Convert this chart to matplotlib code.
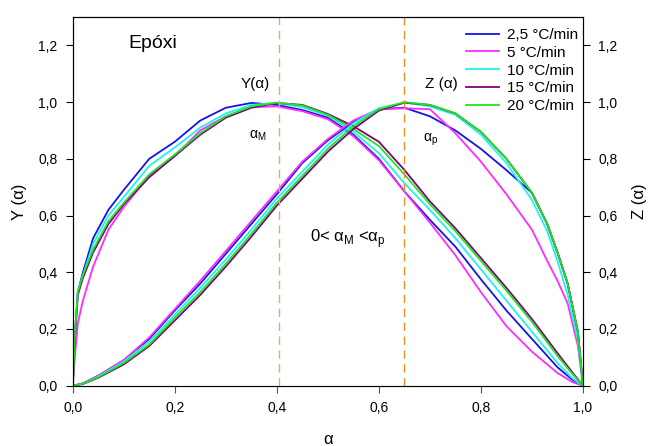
import numpy as np
import matplotlib
matplotlib.use("Agg")
import matplotlib.pyplot as plt
from matplotlib.ticker import FuncFormatter

plt.rcParams['font.family'] = ['Liberation Sans', 'DejaVu Sans']

labels = ['2,5 °C/min', '5 °C/min', '10 °C/min', '15 °C/min', '20 °C/min']
colors = ['#1414e6', '#ff2bff', '#1ff2f2', '#800080', '#1ee61e']

# Y(alpha) curves
alpha_y = [0, 0.005, 0.01, 0.02, 0.04, 0.07, 0.1, 0.15, 0.2, 0.25, 0.3, 0.35, 0.4,
           0.45, 0.5, 0.55, 0.6, 0.65, 0.7, 0.75, 0.8, 0.85, 0.9, 0.95, 0.98, 1.0]
y_blue = [0, 0.20, 0.33, 0.40, 0.52, 0.62, 0.69, 0.80, 0.86, 0.935, 0.98, 0.997, 0.99,
          0.972, 0.945, 0.885, 0.80, 0.685, 0.585, 0.49, 0.375, 0.265, 0.165, 0.065, 0.02, 0]
y_mag = [0, 0.12, 0.22, 0.30, 0.42, 0.55, 0.63, 0.74, 0.81, 0.90, 0.95, 0.982, 0.985,
         0.968, 0.94, 0.88, 0.795, 0.685, 0.575, 0.46, 0.33, 0.21, 0.12, 0.045, 0.012, 0]
y_cyan = [0, 0.19, 0.33, 0.39, 0.50, 0.60, 0.665, 0.775, 0.84, 0.91, 0.96, 0.99, 0.997,
          0.982, 0.952, 0.895, 0.82, 0.714, 0.62, 0.52, 0.41, 0.30, 0.19, 0.08, 0.025, 0]
y_purp = [0, 0.18, 0.32, 0.38, 0.47, 0.57, 0.64, 0.735, 0.81, 0.885, 0.945, 0.98, 0.997,
          0.99, 0.958, 0.915, 0.86, 0.761, 0.65, 0.555, 0.45, 0.345, 0.235, 0.115, 0.045, 0]
y_green = [0, 0.20, 0.33, 0.39, 0.48, 0.58, 0.645, 0.745, 0.815, 0.89, 0.95, 0.985, 0.998,
           0.988, 0.955, 0.905, 0.845, 0.745, 0.64, 0.545, 0.44, 0.335, 0.225, 0.105, 0.04, 0]

# Z(alpha) curves
alpha_z = [0, 0.02, 0.05, 0.1, 0.15, 0.2, 0.25, 0.3, 0.35, 0.4, 0.45, 0.5, 0.55, 0.6,
           0.65, 0.7, 0.75, 0.8, 0.85, 0.9, 0.93, 0.95, 0.97, 0.99, 1.0]
z_blue = [0, 0.008, 0.035, 0.09, 0.165, 0.265, 0.36, 0.465, 0.57, 0.675, 0.785, 0.865, 0.93,
          0.975, 0.98, 0.95, 0.9, 0.835, 0.76, 0.68, 0.57, 0.47, 0.36, 0.19, 0.0]
z_mag = [0, 0.008, 0.035, 0.09, 0.17, 0.27, 0.37, 0.475, 0.58, 0.685, 0.79, 0.87, 0.935,
         0.975, 0.978, 0.975, 0.89, 0.79, 0.675, 0.55, 0.44, 0.37, 0.29, 0.14, 0.0]
z_cyan = [0, 0.007, 0.032, 0.085, 0.155, 0.25, 0.345, 0.445, 0.55, 0.66, 0.755, 0.85, 0.925,
          0.978, 0.998, 0.985, 0.955, 0.885, 0.785, 0.655, 0.545, 0.44, 0.32, 0.16, 0.0]
z_purp = [0, 0.006, 0.028, 0.075, 0.14, 0.23, 0.32, 0.42, 0.525, 0.635, 0.73, 0.825, 0.905,
          0.97, 0.998, 0.99, 0.96, 0.895, 0.80, 0.68, 0.57, 0.47, 0.36, 0.19, 0.0]
z_green = [0, 0.007, 0.03, 0.08, 0.145, 0.24, 0.33, 0.43, 0.535, 0.645, 0.74, 0.835, 0.915,
           0.975, 1.0, 0.99, 0.96, 0.895, 0.80, 0.68, 0.57, 0.47, 0.36, 0.19, 0.0]

Y = [y_blue, y_mag, y_cyan, y_purp, y_green]
Z = [z_blue, z_mag, z_cyan, z_purp, z_green]

alpha_M = 0.405
alpha_p = 0.65

fig = plt.figure(figsize=(6.51, 4.46), dpi=100)
ax = fig.add_axes([0.1117, 0.1352, 0.7838, 0.8267])

for i in range(5):
    ax.plot(alpha_y, Y[i], color=colors[i], lw=1.3, label=labels[i])
for i in range(5):
    ax.plot(alpha_z, Z[i], color=colors[i], lw=1.3)

ax.axvline(alpha_M, color='#e8a868', lw=1, ls=(0, (6, 4)))
ax.axvline(alpha_p, color='#f08c20', lw=1, ls=(0, (6, 4)))

ax.set_xlim(0, 1.0)
ax.set_ylim(0, 1.3)
ax.set_xticks(np.arange(0, 1.01, 0.2))
ax.set_yticks(np.arange(0, 1.21, 0.2))
fmt = FuncFormatter(lambda v, p: ('%.1f' % v).replace('.', ','))
ax.xaxis.set_major_formatter(fmt)
ax.yaxis.set_major_formatter(fmt)
ax.tick_params(direction='out', length=5, labelsize=10, pad=6)
ax.spines['bottom'].set_color('#888888')
ax.tick_params(axis='x', color='#555555')

ax2 = ax.twinx()
ax2.set_ylim(0, 1.3)
ax2.set_yticks(np.arange(0, 1.21, 0.2))
ax2.yaxis.set_major_formatter(fmt)
ax2.tick_params(direction='out', length=5, labelsize=10, pad=6)

ax.set_xlabel('α', fontsize=12, labelpad=12)
ax.set_ylabel('Y (α)', fontsize=12, labelpad=8)
ax2.set_ylabel('Z (α)', fontsize=12, labelpad=10)

ax.text(0.11, 1.19, 'Epóxi', fontsize=14)
ax.text(0.33, 1.05, 'Y(α)', fontsize=11)
ax.text(0.69, 1.05, 'Z (α)', fontsize=11)
ax.text(0.345, 0.87, r'α$_\mathregular{M}$', fontsize=10)
ax.text(0.687, 0.86, r'α$_\mathregular{p}$', fontsize=10)
ax.text(0.465, 0.505, r'0< α$_\mathregular{M}$ <α$_\mathregular{p}$', fontsize=12)

leg = ax.legend(loc='upper right', bbox_to_anchor=(1.008, 0.995), frameon=False,
                fontsize=11, handlelength=2.2, labelspacing=0.25, handletextpad=0.5,
                borderaxespad=0.2)

fig.savefig('out.png', dpi=100)
